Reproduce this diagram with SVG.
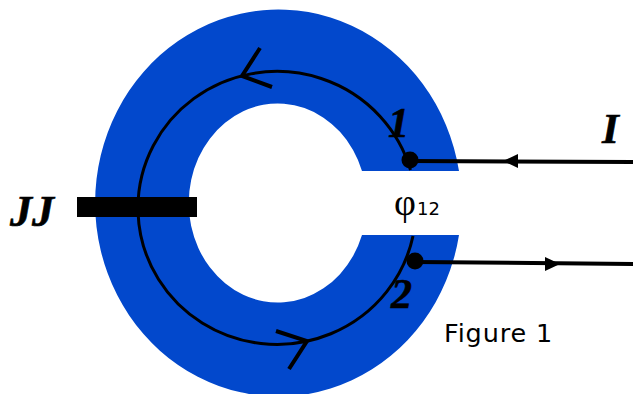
<svg xmlns="http://www.w3.org/2000/svg" width="633" height="394" viewBox="0 0 633 394">
<style>
.loop{fill:none;stroke:#000;stroke-width:3}
.tick{fill:none;stroke:#000;stroke-width:4}
.wire{fill:none;stroke:#000;stroke-width:4}
.it{font-family:"Liberation Serif",serif;font-style:italic;font-weight:bold;fill:#000;stroke:#000;stroke-width:.6}
.sans{font-family:"DejaVu Sans",sans-serif;fill:#000}
</style>
<rect width="633" height="394" fill="#fff"/>
<g id="ring">
<path fill="#0248cc" d="M459 171A183.2 193.5 0 1 0 459 235H362A89 99.5 0 1 1 362 171Z"/>
</g>
<g id="jj">
<rect x="77" y="197" width="120" height="20" fill="#000"/>
<text class="it" x="10" y="226" font-size="44">JJ</text>
</g>
<g id="connectors">
<path class="loop" d="M410.5 170A139 136.5 0 1 0 413 236"/>
<path class="tick" d="M260 48L242 76L272 87"/>
<path class="tick" d="M276 331L307 341L289 369"/>
<path class="wire" d="M410 161L633 162"/>
<path class="wire" d="M415 262L633 264"/>
<path d="M503 161L518 154V168Z" fill="#000"/>
<path d="M560 264L545 257V271Z" fill="#000"/>
</g>
<g id="terminal-1">
<circle cx="410" cy="160" r="8.5" fill="#000"/>
<text class="it" x="388" y="137" font-size="42">1</text>
</g>
<g id="terminal-2">
<circle cx="415" cy="261" r="8.5" fill="#000"/>
<text class="it" x="391" y="308" font-size="42">2</text>
</g>
<g id="labels">
<text class="it" x="602" y="143" font-size="43">I</text>
<text x="394" y="215" font-size="38" font-family="'Liberation Serif',serif">φ</text>
<text class="sans" x="417" y="215" font-size="18">12</text>
<text class="sans" x="444" y="342" font-size="25.5" letter-spacing="0.85">Figure 1</text>
</g>
</svg>
